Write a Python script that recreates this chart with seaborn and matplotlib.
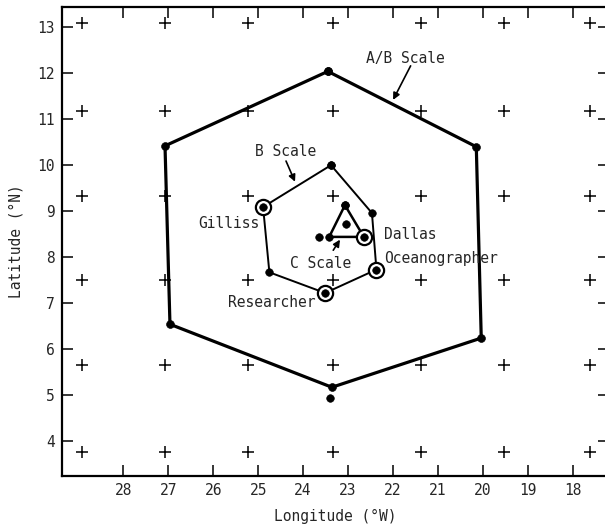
import numpy as np
import pandas as pd
import matplotlib
matplotlib.use("Agg")
import matplotlib.pyplot as plt
import seaborn as sns

# ---- data ----
grid_lon = [28.91, 27.07, 25.23, 23.33, 21.37, 19.53, 17.63]
grid_lat = [13.09, 11.18, 9.33, 7.50, 5.65, 3.77]

ab_lon = [23.45, 20.15, 20.04, 23.36, 26.96, 27.07, 23.45]
ab_lat = [12.04, 10.40, 6.24, 5.17, 6.54, 10.42, 12.04]

b_lon = [23.38, 22.47, 22.37, 23.51, 24.75, 24.89, 23.38]
b_lat = [10.00, 8.96, 7.73, 7.22, 7.67, 9.09, 10.00]

c_lon = [23.07, 22.65, 23.42, 23.07]
c_lat = [9.13, 8.44, 8.44, 9.13]

extra_lon = [23.04, 23.64, 23.40]
extra_lat = [8.71, 8.44, 4.93]

ships = ["Gilliss", "Researcher", "Oceanographer", "Dallas"]
ship_lon = [24.89, 23.51, 22.37, 22.65]
ship_lat = [9.09, 7.22, 7.73, 8.44]

x_ticks = [28, 27, 26, 25, 24, 23, 22, 21, 20, 19, 18]
y_ticks = [4, 5, 6, 7, 8, 9, 10, 11, 12, 13]

# ---- styling ----
sns.set_style("ticks")
plt.rcParams["font.family"] = ["DejaVu Sans Mono", "DejaVu Sans"]
FS = 10.5

fig = plt.figure(figsize=(6.05, 5.28), dpi=100)
ax = fig.add_axes([62 / 605, 52 / 528, 547 / 605, 469 / 528])

# grid of "+" station markers
gx, gy = np.meshgrid(grid_lon, grid_lat)
grid_df = pd.DataFrame({"lon": gx.ravel(), "lat": gy.ravel()})
sns.scatterplot(data=grid_df, x="lon", y="lat", marker="+", s=75,
                color="black", linewidth=1.1, ax=ax, zorder=2)

# A/B scale hexagon
ab_df = pd.DataFrame({"lon": ab_lon, "lat": ab_lat})
sns.lineplot(data=ab_df, x="lon", y="lat", sort=False, estimator=None,
             color="black", linewidth=2.3, ax=ax, zorder=3)
sns.scatterplot(data=ab_df, x="lon", y="lat", s=32, color="black",
                edgecolor="black", ax=ax, zorder=4)

# B scale hexagon
b_df = pd.DataFrame({"lon": b_lon, "lat": b_lat})
sns.lineplot(data=b_df, x="lon", y="lat", sort=False, estimator=None,
             color="black", linewidth=1.4, ax=ax, zorder=3)
sns.scatterplot(data=b_df, x="lon", y="lat", s=30, color="black",
                edgecolor="black", ax=ax, zorder=4)

# C scale triangle
c_df = pd.DataFrame({"lon": c_lon, "lat": c_lat})
sns.lineplot(data=c_df, x="lon", y="lat", sort=False, estimator=None,
             color="black", linewidth=1.8, ax=ax, zorder=3)
sns.scatterplot(data=c_df, x="lon", y="lat", s=30, color="black",
                edgecolor="black", ax=ax, zorder=4)

# extra dots
ex_df = pd.DataFrame({"lon": extra_lon, "lat": extra_lat})
sns.scatterplot(data=ex_df, x="lon", y="lat", s=30, color="black",
                edgecolor="black", ax=ax, zorder=4)

# ship positions (ringed)
sh_df = pd.DataFrame({"ship": ships, "lon": ship_lon, "lat": ship_lat})
sns.scatterplot(data=sh_df, x="lon", y="lat", s=120, color="white",
                edgecolor="black", linewidth=1.6, ax=ax, zorder=5)
sns.scatterplot(data=sh_df, x="lon", y="lat", s=30, color="black",
                edgecolor="black", ax=ax, zorder=6)

# labels
ax.text(21.72, 12.33, "A/B Scale", fontsize=FS, ha="center", va="center")
ax.annotate("", xy=(22.0, 11.42), xytext=(21.61, 12.16),
            arrowprops=dict(arrowstyle="-|>", color="black", lw=1.2,
                            mutation_scale=10, shrinkA=0, shrinkB=0))
ax.text(24.38, 10.29, "B Scale", fontsize=FS, ha="center", va="center")
ax.annotate("", xy=(24.18, 9.64), xytext=(24.38, 10.09),
            arrowprops=dict(arrowstyle="-|>", color="black", lw=1.2,
                            mutation_scale=10, shrinkA=0, shrinkB=0))
ax.text(23.62, 7.87, "C Scale", fontsize=FS, ha="center", va="center")
ax.annotate("", xy=(23.18, 8.38), xytext=(23.33, 8.15),
            arrowprops=dict(arrowstyle="-|>", color="black", lw=1.2,
                            mutation_scale=10, shrinkA=0, shrinkB=0))
ax.text(24.97, 8.73, "Gilliss", fontsize=FS, ha="right", va="center")
ax.text(22.2, 8.50, "Dallas", fontsize=FS, ha="left", va="center")
ax.text(22.2, 7.98, "Oceanographer", fontsize=FS, ha="left", va="center")
ax.text(24.70, 7.02, "Researcher", fontsize=FS, ha="center", va="center")

# axes
ax.set_xlim(29.36, 17.20)
ax.set_ylim(3.24, 13.44)
ax.set_xticks(x_ticks)
ax.set_xticklabels([str(t) for t in x_ticks], fontsize=FS)
ax.set_yticks(y_ticks)
ax.set_yticklabels([str(t) for t in y_ticks], fontsize=FS)
ax.tick_params(direction="in", length=8, width=1.3, top=True, right=True,
               pad=5)
for sp in ax.spines.values():
    sp.set_linewidth(1.6)
    sp.set_color("black")
ax.set_xlabel("Longitude (°W)", fontsize=FS, labelpad=8)
ax.set_ylabel("Latitude (°N)", fontsize=FS, labelpad=10)

fig.savefig("out.png", dpi=100)
